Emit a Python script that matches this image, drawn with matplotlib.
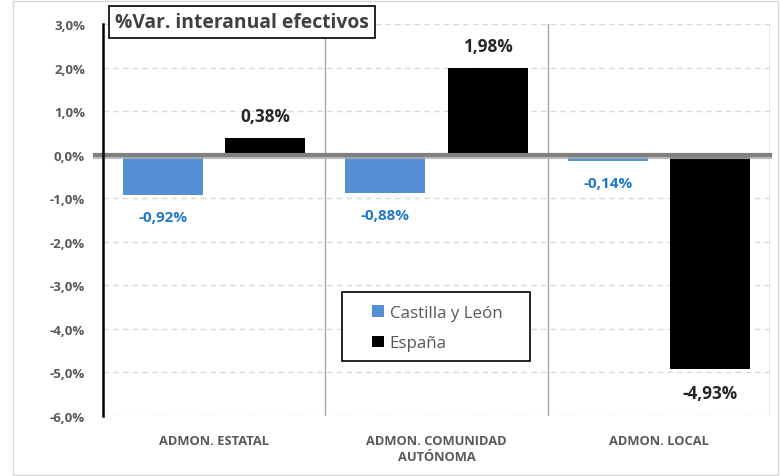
import matplotlib.pyplot as plt
import matplotlib.patheffects as pe
from matplotlib.patches import Rectangle
import numpy as np

plt.rcParams['font.family'] = ['Open Sans', 'DejaVu Sans']

categories = ["ADMON. ESTATAL", "ADMON. COMUNIDAD\nAUTÓNOMA", "ADMON. LOCAL"]
castilla = [-0.92, -0.88, -0.14]
espana = [0.38, 1.98, -4.93]
series_names = ["Castilla y León", "España"]
title = "%Var. interanual efectivos"

fig = plt.figure(figsize=(7.8, 4.77), dpi=100)
ax = fig.add_axes([103/780, 1-417/477, 667/780, 392/477])

x = np.arange(len(categories))
w = 0.36
off = 0.23
blue = "#558ED5"
ax.bar(x - off, castilla, w, color=blue, zorder=3, label=series_names[0])
ax.bar(x + off, espana, w, color="black", zorder=3, label=series_names[1])

ax.set_xlim(-0.5, 2.5)
ax.set_ylim(-6, 3)
yt = np.arange(-6, 4, 1)
ax.set_yticks(yt)
ax.set_yticklabels([f"{v:.1f}%".replace(".", ",") for v in yt],
                   fontsize=9.5, fontweight="bold", color="#595959")
ax.tick_params(axis="y", length=0, pad=13)
ax.tick_params(axis="x", length=0, pad=13)
ax.set_xticks(x)
ax.set_xticklabels(categories, fontsize=9.3, fontweight="bold", color="#595959",
                   linespacing=1.25)
ax.yaxis.grid(True, linestyle=(0, (4, 3)), color="#D9D9D9", linewidth=1, zorder=0)
for s in ["top", "right", "bottom"]:
    ax.spines[s].set_visible(False)
ax.spines["left"].set_color("black")
ax.spines["left"].set_linewidth(1.8)
ax.spines["left"].set_zorder(5)

for xv in [0.5, 1.5, 2.5]:
    ax.axvline(xv, color="#A6A6A6", linewidth=1, zorder=1)

# zero line with shadow
ax.axhline(0, color="#808080", linewidth=3, zorder=4, xmin=-0.012, clip_on=False,
           path_effects=[pe.SimpleLineShadow(offset=(0, -1.5), shadow_color="#B0B0B0", alpha=0.8),
                         pe.Normal()])

for i, v in enumerate(castilla):
    ax.annotate(f"{v:.2f}%".replace(".", ","), (x[i] - off, v), xytext=(0, -16),
                textcoords="offset points", ha="center", va="center",
                fontsize=11, fontweight="bold", color="#2079C7")
for i, v in enumerate(espana):
    dy = 16 if v > 0 else -17
    ax.annotate(f"{v:.2f}%".replace(".", ","), (x[i] + off, v), xytext=(0, dy),
                textcoords="offset points", ha="center", va="center",
                fontsize=12.3, fontweight="bold", color="#262626")

fig.text(115/780, 1-23/477, title, fontsize=13.9, fontweight="bold", color="#404040",
         va="center", ha="left",
         bbox=dict(boxstyle="square,pad=0.3", fc="white", ec="black", lw=1.2))

# legend frame
ax.add_patch(Rectangle((342/780, 1-362/477), (530-342)/780, (362-293)/477,
                       transform=fig.transFigure, fc="white", ec="black", lw=1.2,
                       zorder=5, clip_on=False))
leg = ax.legend(loc="upper left", bbox_to_anchor=((372-103)/667, 1-(306-25)/392),
                fontsize=12.2, frameon=False,
                handlelength=0.7, handleheight=0.7, borderpad=0, labelspacing=0.85,
                handletextpad=0.35, borderaxespad=0)
leg.set_zorder(6)
for t in leg.get_texts():
    t.set_color("#595959")

fig.patches.append(Rectangle((13/780, 0.003), 765/780, 0.993, transform=fig.transFigure,
                             fill=False, ec="#D9D9D9", lw=1))

fig.savefig("out.png", dpi=100)
